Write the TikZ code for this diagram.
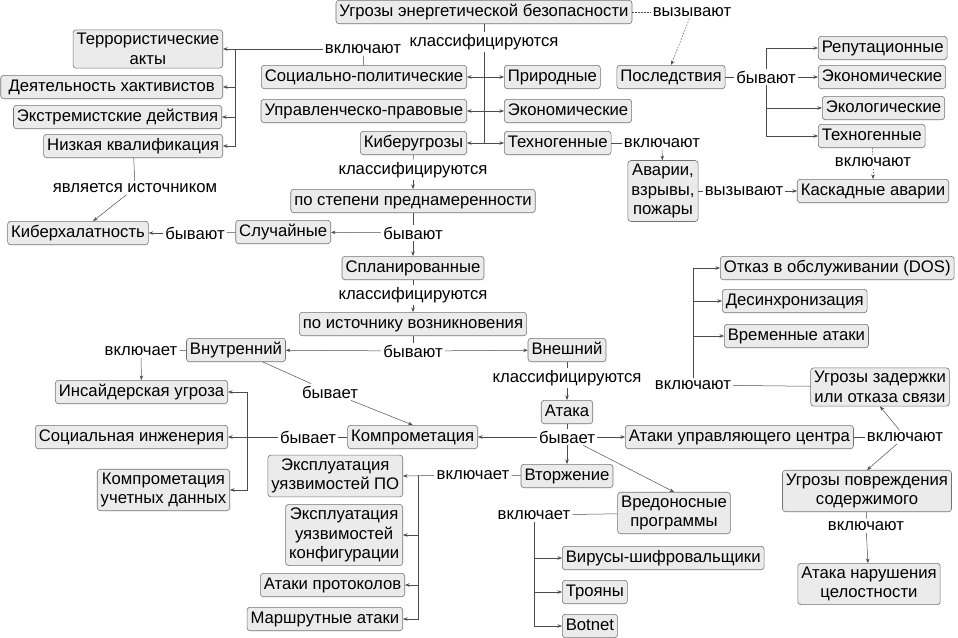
\documentclass[tikz,border=0pt]{standalone}
\usepackage{fontspec}
\setmainfont{Liberation Sans}
\usetikzlibrary{arrows.meta}
\begin{document}
\begin{tikzpicture}[x=1pt,y=-1pt,
  box/.style={draw=black!55, fill=black!8, rounded corners=3pt, inner xsep=3.5pt, inner ysep=4pt,
    text height=11.8pt, text depth=3.6pt, font=\fontsize{16.7}{19.5}\selectfont, line width=0.6pt},
  mbox/.style={draw=black!55, fill=black!8, rounded corners=3pt, inner xsep=3.5pt, inner ysep=3.5pt,
    align=center, font=\fontsize{16.7}{19.5}\selectfont, line width=0.6pt},
  lab/.style={inner sep=2pt, font=\fontsize{16.7}{19.5}\selectfont},
  con/.style={draw=black!70, line width=0.5pt},
  arr/.style={con, -{Stealth[length=4.5pt,width=3.5pt]}},
  dotl/.style={con, dash pattern=on 1.5pt off 1.5pt},
  dotarr/.style={arr, dash pattern=on 1.5pt off 1.5pt}
]
\useasboundingbox (0,0) rectangle (958,637);

% ---------- boxes ----------
\node[box] (g) at (484,12) {Угрозы энергетической безопасности};
\node[mbox, anchor=east] (terr) at (223,49) {Террористические\\акты};
\node[box, anchor=east, minimum width=222pt] (hakt) at (223,87) {Деятельность хактивистов};
\node[box, anchor=east] (ext) at (222,117) {Экстремистские действия};
\node[box, anchor=east] (nk) at (223,146) {Низкая квалификация};
\node[box, anchor=east] (sp) at (467,77) {Социально-политические};
\node[box, anchor=east] (upr) at (467,111) {Управленческо-правовые};
\node[box, anchor=east] (ku) at (467,143) {Киберугрозы};
\node[box, anchor=west] (prir) at (504,77) {Природные};
\node[box, anchor=west] (ek1) at (504,111) {Экономические};
\node[box, anchor=west] (t1) at (504,143) {Техногенные};
\node[box] (ps) at (413,201) {по степени преднамеренности};
\node[box, anchor=east] (sl) at (331,232) {Случайные};
\node[box] (kh) at (78,233) {Киберхалатность};
\node[box] (spl) at (413,268) {Спланированные};
\node[box] (pi) at (413,324) {по источнику возникновения};
\node[box] (vn) at (236,350) {Внутренний};
\node[box] (vs) at (567,350) {Внешний};
\node[box, anchor=east] (ins) at (228,392) {Инсайдерская угроза};
\node[box, anchor=east] (si) at (228,437) {Социальная инженерия};
\node[mbox, anchor=east] (kud) at (230,490) {Компрометация\\учетных данных};
\node[box, anchor=east] (komp) at (478,437) {Компрометация};
\node[box] (at) at (567,412) {Атака};
\node[box] (vt) at (567,476) {Вторжение};
\node[box, anchor=west] (auc) at (625,437) {Атаки управляющего центра};
\node[mbox] (vp) at (674,513) {Вредоносные\\программы};
\node[mbox, anchor=east] (e1) at (403,476) {Эксплуатация\\уязвимостей ПО};
\node[mbox, anchor=east] (e2) at (403,535) {Эксплуатация\\уязвимостей\\конфигурации};
\node[box, anchor=east] (ap) at (405,585) {Атаки протоколов};
\node[box, anchor=east] (ma) at (403,619) {Маршрутные атаки};
\node[box, anchor=west] (vir) at (562,558) {Вирусы-шифровальщики};
\node[box, anchor=west] (tro) at (562,592) {Трояны};
\node[box, anchor=west] (bot) at (562,626) {Botnet};
\node[box, anchor=west] (dos) at (720,268) {Отказ в обслуживании (DOS)};
\node[box, anchor=west] (des) at (722,301) {Десинхронизация};
\node[box, anchor=west] (vr) at (724,336) {Временные атаки};
\node[mbox] (uz) at (880,387) {Угрозы задержки\\или отказа связи};
\node[mbox] (up) at (867,491) {Угрозы повреждения\\содержимого};
\node[mbox] (an) at (869,584) {Атака нарушения\\целостности};
\node[box] (pos) at (671,77) {Последствия};
\node[box, anchor=west] (rep) at (818,48) {Репутационные};
\node[box, anchor=west] (ek2) at (818,77) {Экономические};
\node[box, anchor=west] (eko) at (822,108) {Экологические};
\node[box, anchor=west] (t2) at (818,136) {Техногенные};
\node[mbox] (av) at (663,191) {Аварии,\\взрывы,\\пожары};
\node[box] (ka) at (873,191) {Каскадные аварии};

% ---------- linking phrases ----------
\node[lab] (l1) at (484,42) {классифицируются};
\node[lab] (l2) at (363,49) {включают};
\node[lab] (l3) at (135,188) {является источником};
\node[lab] (l4) at (662,143) {включают};
\node[lab] (l5) at (413,170) {классифицируются};
\node[lab] (l6) at (413,233) {бывают};
\node[lab] (l7) at (195,233) {бывают};
\node[lab] (l8) at (413,295) {классифицируются};
\node[lab] (l9) at (413,351) {бывают};
\node[lab] (l10) at (141,351) {включает};
\node[lab] (l11) at (330,392) {бывает};
\node[lab] (l12) at (308,437) {бывает};
\node[lab] (l13) at (567,378) {классифицируются};
\node[lab] (l14) at (567,437) {бывает};
\node[lab] (l15) at (473,475) {включает};
\node[lab] (l16) at (534,515) {включает};
\node[lab] (l17) at (905,437) {включают};
\node[lab] (l18) at (693,385) {включают};
\node[lab] (l19) at (866,526) {включают};
\node[lab] (l20) at (692,12) {вызывают};
\node[lab] (l21) at (766,77) {бывают};
\node[lab] (l22) at (873,162) {включают};
\node[lab] (l23) at (744,191) {вызывают};

\coordinate (tr2) at (235,49);
\coordinate (tr12) at (247,437);
\coordinate (tr15) at (418,475);

% ---------- connectors ----------
\draw[con] (g) -- (l1);
\draw[arr] (l1) |- (sp.east);
\draw[arr] (l1) |- (upr.east);
\draw[arr] (l1) |- (ku.east);
\draw[arr] (l1) |- (prir.west);
\draw[arr] (l1) |- (ek1.west);
\draw[arr] (l1) |- (t1.west);

\draw[con] (sp) -- (l2);
\draw[arr] (l2) -- (terr.east);
\draw[arr] (tr2) |- (hakt.east);
\draw[arr] (tr2) |- (ext.east);
\draw[arr] (tr2) |- (nk.east);

\draw[con] (nk) -- (l3);
\draw[arr] (l3) -- (kh);

\draw[con] (t1) -- (l4);
\draw[arr] (l4) -- (av);

\draw[con] (ku) -- (l5);
\draw[arr] (l5) -- (ps);

\draw[con] (ps) -- (l6);
\draw[arr] (l6) -- (spl);
\draw[arr] (l6) -- (sl);

\draw[con] (sl) -- (l7);
\draw[arr] (l7) -- (kh);

\draw[con] (spl) -- (l8);
\draw[arr] (l8) -- (pi);

\draw[con] (pi) -- (l9);
\draw[arr] (l9) -- (vn);
\draw[arr] (l9) -- (vs);

\draw[con] (vn) -- (l10);
\draw[arr] (l10) -- (ins);

\draw[con] (vn) -- (l11);
\draw[arr] (l11) -- (komp.north);

\draw[con] (komp) -- (l12);
\draw[arr] (l12) -- (si);
\draw[arr] (tr12) |- (ins.east);
\draw[arr] (tr12) |- (kud.east);

\draw[con] (vs) -- (l13);
\draw[arr] (l13) -- (at);

\draw[con] (at) -- (l14);
\draw[arr] (l14) -- (vt);
\draw[arr] (l14) -- (komp);
\draw[arr] (l14) -- (auc);
\draw[arr] (l14) -- (vp.north);

\draw[con] (vt) -- (l15);
\draw[arr] (l15) -- (e1.east);
\draw[arr] (tr15) |- (e2.east);
\draw[arr] (tr15) |- (ap.east);
\draw[arr] (tr15) |- (ma.east);

\draw[con] (vp) -- (l16);
\draw[arr] (l16) |- (vir.west);
\draw[arr] (l16) |- (tro.west);
\draw[arr] (l16) |- (bot.west);

\draw[con] (auc) -- (l17);
\draw[arr] (l17) -- (uz.south);
\draw[arr] (l17) -- (up.north);

\draw[con] (uz) -- (l18);
\draw[arr] (l18) |- (dos.west);
\draw[arr] (l18) |- (des.west);
\draw[arr] (l18) |- (vr.west);

\draw[con] (up) -- (l19);
\draw[arr] (l19) -- (an);

\draw[dotl] (g) -- (l20);
\draw[dotarr] (l20) -- (pos.north);

\draw[con] (pos) -- (l21);
\draw[arr] (l21) |- (rep.west);
\draw[arr] (l21) -- (ek2.west);
\draw[arr] (l21) |- (eko.west);
\draw[arr] (l21) |- (t2.west);

\draw[dotl] (t2) -- (l22);
\draw[dotarr] (l22) -- (ka);

\draw[con] (av) -- (l23);
\draw[arr] (l23) -- (ka);
\end{tikzpicture}
\end{document}
